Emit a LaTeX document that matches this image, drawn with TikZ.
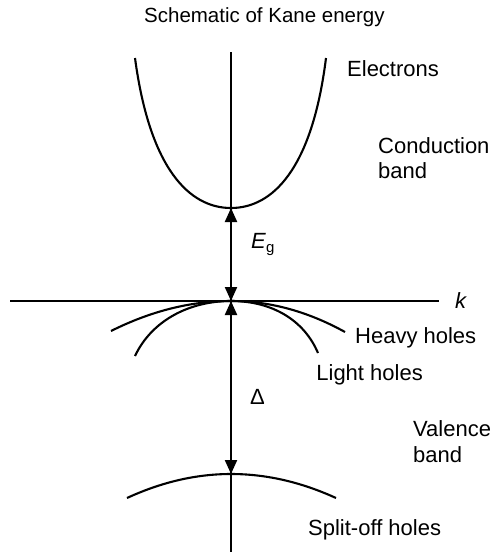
\documentclass[tikz,border=0pt]{standalone}
\usepackage{fontspec}
\setmainfont{Liberation Sans}
\usetikzlibrary{arrows.meta}
\begin{document}
\begin{tikzpicture}[x=1pt,y=-1pt,
  band/.style={line width=2.1pt},
  axisline/.style={line width=2.1pt},
  dblarrow/.style={line width=2.1pt,
    {Triangle[length=14pt,width=12pt]}-{Triangle[length=14pt,width=12pt]}},
  lbl/.style={anchor=base west, inner sep=0pt, font=\fontsize{22}{25}\selectfont},
  lble/.style={anchor=base east, inner sep=0pt, font=\fontsize{22}{25}\selectfont}]
\useasboundingbox (0,0) rectangle (498,552);
% axes
\coordinate (vtop) at (231,52);
\coordinate (vbot) at (231,552);
\coordinate (hl) at (10,301);
\coordinate (hr) at (439,301);
\coordinate (O) at (231,301);
\coordinate (cmin) at (231,208);
\coordinate (so) at (231,474);
\draw[axisline] (vtop) -- (vbot);
\draw[axisline] (hl) -- (hr);
% conduction band
\draw[band] (135,58) .. controls (150,170) and (190,208) .. (cmin)
  .. controls (272,208) and (312,170) .. (326,58);
% heavy holes
\draw[band] (111,331) .. controls (151,311) and (191,301) .. (O)
  .. controls (269,301) and (307,311) .. (345,332);
% light holes
\draw[band] (135,356) .. controls (152,320) and (190,301) .. (O)
  .. controls (272,301) and (304,320) .. (318,353);
% split-off holes
\draw[band] (127,498) .. controls (161.7,482) and (196.3,474) .. (so)
  .. controls (266,474) and (301,482) .. (336,498);
% arrows
\draw[dblarrow] (cmin) -- (O);
\draw[dblarrow] (O) -- (so);
% labels
\node[lbl, font=\fontsize{20.5}{24}\selectfont] (title) at (144,22) {Schematic of Kane energy};
\node[lbl] (el) at (347,76) {Electrons};
\node[lbl] (cb1) at (378,153) {Conduction};
\node[lbl] (cb2) at (378,178) {band};
\node[lbl] (eg) at (251,248) {\textit{E}\raisebox{-4pt}{\fontsize{15}{15}\selectfont g}};
\node[lbl] (k) at (455,308) {\textit{k}};
\node[lbl] (hh) at (355,343) {Heavy holes};
\node[lble] (lh) at (423,380) {Light holes};
\node[lbl] (delta) at (250,404) {Δ};
\node[lbl] (vb1) at (413,436) {Valence};
\node[lbl] (vb2) at (413,462) {band};
\node[lbl] (soh) at (308,535) {Split-off holes};
\end{tikzpicture}
\end{document}
